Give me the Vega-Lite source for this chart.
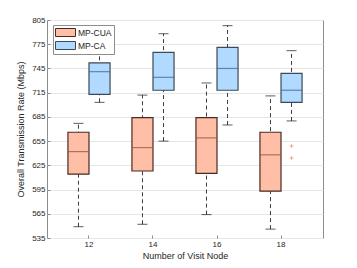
{
  "$schema": "https://vega.github.io/schema/vega-lite/v6.json",
  "width": 276,
  "height": 218,
  "autosize": "none",
  "padding": {"left": 47, "top": 20, "right": 34, "bottom": 30},
  "background": "white",
  "config": {
    "font": "Liberation Sans",
    "view": {"stroke": "#8c8c8c", "strokeWidth": 1},
    "axis": {
      "labelFont": "Liberation Sans",
      "titleFont": "Liberation Sans",
      "labelFontSize": 8,
      "titleFontSize": 9,
      "labelColor": "#262626",
      "titleColor": "#262626",
      "titleFontWeight": "normal",
      "domain": false,
      "tickColor": "#8c8c8c",
      "tickSize": -3
    },
    "axisY": {
      "labelOverlap": false,
      "labelSeparation": 0,
      "title": "Overall Transmission Rate (Mbps)",
      "values": [535, 565, 595, 625, 655, 685, 715, 745, 775, 805],
      "grid": true, "gridColor": "#e6e6e6", "labelPadding": 5, "titlePadding": 6
    }
  },
  "datasets": {
    "boxes": [
      {"node": "12", "method": "MP-CUA", "lower": 549, "q1": 614, "median": 642, "q3": 666, "upper": 677},
      {"node": "12", "method": "MP-CA", "lower": 703, "q1": 713, "median": 741, "q3": 752, "upper": 765},
      {"node": "14", "method": "MP-CUA", "lower": 552, "q1": 618, "median": 647, "q3": 684, "upper": 712},
      {"node": "14", "method": "MP-CA", "lower": 655, "q1": 718, "median": 734, "q3": 765, "upper": 788},
      {"node": "16", "method": "MP-CUA", "lower": 564, "q1": 615, "median": 659, "q3": 684, "upper": 727},
      {"node": "16", "method": "MP-CA", "lower": 675, "q1": 718, "median": 745, "q3": 771, "upper": 798},
      {"node": "18", "method": "MP-CUA", "lower": 546, "q1": 593, "median": 638, "q3": 666, "upper": 711},
      {"node": "18", "method": "MP-CA", "lower": 680, "q1": 703, "median": 718, "q3": 739, "upper": 767}
    ],
    "outliers": [
      {"node": "18", "method": "MP-CA", "value": 649},
      {"node": "18", "method": "MP-CA", "value": 634}
    ]
  },
  "encoding": {
    "x": {
      "field": "node", "type": "nominal",
      "scale": {"domain": ["12", "14", "16", "18"], "paddingInner": 0, "paddingOuter": 0.156},
      "axis": {"title": "Number of Visit Node", "labelAngle": 0, "labelPadding": 5, "titlePadding": 3, "grid": false}
    },
    "xOffset": {
      "field": "method", "type": "nominal",
      "scale": {"domain": ["MP-CUA", "MP-CA"], "paddingInner": 0, "paddingOuter": 0.52}
    }
  },
  "layer": [
    {
      "data": {"name": "boxes"},
      "mark": {"type": "rule", "strokeDash": [4, 3], "color": "#3a3a3a", "strokeWidth": 1},
      "encoding": {
        "y": {
          "field": "lower", "type": "quantitative",
          "scale": {"domain": [535, 805], "nice": false, "zero": false},
          "axis": {"title": "Overall Transmission Rate (Mbps)", "labelOverlap": false, "values": [535, 565, 595, 625, 655, 685, 715, 745, 775, 805]}
        },
        "y2": {"field": "upper"}
      }
    },
    {
      "data": {"name": "boxes"},
      "mark": {"type": "tick", "orient": "horizontal", "size": 10, "thickness": 1, "color": "#1a1a1a"},
      "encoding": {"y": {"field": "upper", "type": "quantitative", "axis": {"title": "Overall Transmission Rate (Mbps)", "labelOverlap": false, "values": [535, 565, 595, 625, 655, 685, 715, 745, 775, 805]}}}
    },
    {
      "data": {"name": "boxes"},
      "mark": {"type": "tick", "orient": "horizontal", "size": 10, "thickness": 1, "color": "#1a1a1a"},
      "encoding": {"y": {"field": "lower", "type": "quantitative", "axis": {"title": "Overall Transmission Rate (Mbps)", "labelOverlap": false, "values": [535, 565, 595, 625, 655, 685, 715, 745, 775, 805]}}}
    },
    {
      "data": {"name": "boxes"},
      "mark": {"type": "bar", "strokeWidth": 1.2},
      "encoding": {
        "y": {"field": "q1", "type": "quantitative", "axis": {"title": "Overall Transmission Rate (Mbps)", "labelOverlap": false, "values": [535, 565, 595, 625, 655, 685, 715, 745, 775, 805]}},
        "y2": {"field": "q3"},
        "fill": {
          "field": "method", "type": "nominal",
          "scale": {"domain": ["MP-CUA", "MP-CA"], "range": ["#FFBFA6", "#B0DAFF"]},
          "legend": {
            "title": null,
            "orient": "none",
            "legendX": 6,
            "legendY": 5,
            "symbolType": "M-2,-0.8L2,-0.8L2,0.8L-2,0.8Z",
            "symbolSize": 100,
            "symbolStrokeColor": "#555555",
            "symbolStrokeWidth": 1,
            "labelFont": "Liberation Sans",
            "labelFontSize": 8.5,
            "labelColor": "#1a1a1a",
            "rowPadding": 0,
            "padding": 2,
            "strokeColor": "#8c8c8c",
            "fillColor": "white",
            "symbolOffset": 5,
            "labelOffset": 7
          }
        },
        "stroke": {
          "field": "method", "type": "nominal",
          "scale": {"domain": ["MP-CUA", "MP-CA"], "range": ["#4a2a20", "#3c4a58"]},
          "legend": null
        }
      }
    },
    {
      "data": {"name": "boxes"},
      "mark": {"type": "tick", "orient": "horizontal", "size": 21, "thickness": 1.2},
      "encoding": {
        "y": {"field": "median", "type": "quantitative", "axis": {"title": "Overall Transmission Rate (Mbps)", "labelOverlap": false, "values": [535, 565, 595, 625, 655, 685, 715, 745, 775, 805]}},
        "color": {
          "field": "method", "type": "nominal",
          "scale": {"domain": ["MP-CUA", "MP-CA"], "range": ["#9a4a35", "#40607e"]},
          "legend": null
        }
      }
    },
    {
      "data": {"name": "outliers"},
      "mark": {"type": "point", "shape": "M-1,0L1,0M0,-1L0,1", "size": 12, "filled": false, "color": "#ff5050", "strokeWidth": 0.8},
      "encoding": {"y": {"field": "value", "type": "quantitative", "axis": {"title": "Overall Transmission Rate (Mbps)", "labelOverlap": false, "values": [535, 565, 595, 625, 655, 685, 715, 745, 775, 805]}}}
    }
  ],
  "resolve": {"scale": {"color": "independent", "fill": "independent", "stroke": "independent"}}
}
